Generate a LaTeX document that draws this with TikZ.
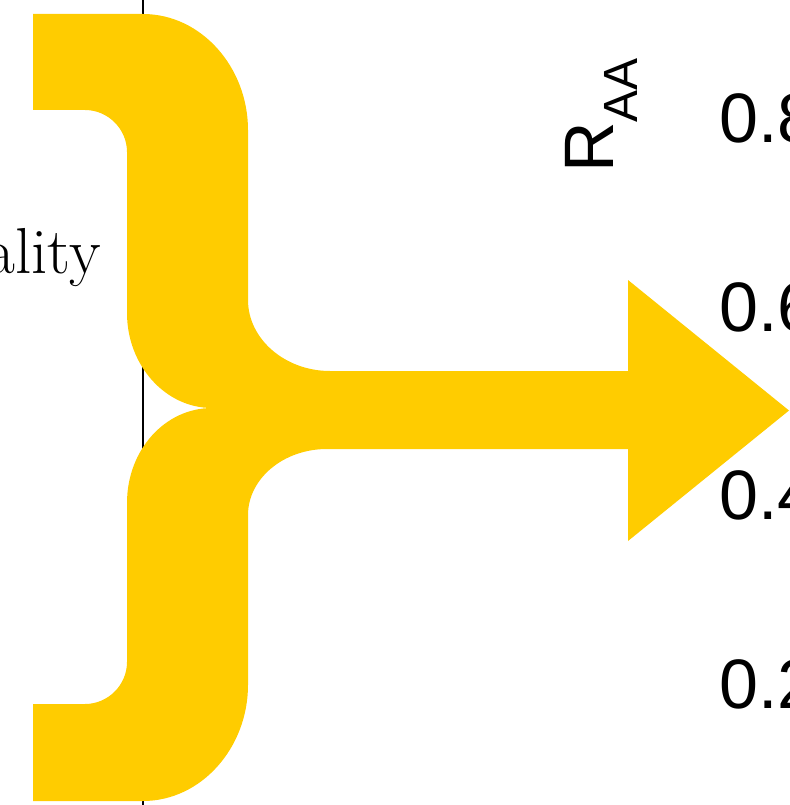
\documentclass[tikz,border=0pt]{standalone}
\usepackage{fontspec}
\newfontfamily\arialfont{Liberation Sans}
\definecolor{braceyellow}{HTML}{FFCC00}
\begin{document}
\begin{tikzpicture}[x=1pt,y=-1pt,
  axisline/.style={line width=1.5pt,black},
  bracefill/.style={fill=braceyellow,draw=none},
  ticklabel/.style={anchor=west,inner sep=0pt,font=\arialfont\fontsize{70}{70}\selectfont},
  axislabel/.style={inner sep=0pt,font=\arialfont\fontsize{70}{70}\selectfont},
  sidelabel/.style={anchor=base east,inner sep=0pt,font=\fontsize{65}{65}\selectfont}]
\useasboundingbox (0,0) rectangle (789,805);
\draw[axisline] (143,0) -- (143,805);
\fill[bracefill]
  (33,14) -- (143,14)
  .. controls (201,14) and (248,67) .. (248,130)
  -- (248,300)
  .. controls (248,339) and (285,371) .. (330,371)
  -- (628,371) -- (628,280) -- (789,410.5) -- (628,541) -- (628,449) -- (327,449)
  .. controls (283,449) and (248,479) .. (248,515)
  -- (248,685)
  .. controls (248,748) and (201,801) .. (143,801)
  -- (33,801) -- (33,704) -- (85,704)
  .. controls (108,704) and (127,685) .. (127,662)
  -- (127,503)
  .. controls (127,450) and (165,408) .. (212,408)
  .. controls (165,408) and (127,365) .. (127,313)
  -- (127,152)
  .. controls (127,129) and (108,110) .. (85,110)
  -- (33,110) -- cycle;
\node[sidelabel] (side) at (101,273) {ality};
\node[axislabel,rotate=90,anchor=base west] (raa) at (613,173) {R\raisebox{-24pt}{\fontsize{48}{48}\selectfont AA}};
\node[ticklabel] (t8) at (719,118) {0.8};
\node[ticklabel] (t6) at (719,307) {0.6};
\node[ticklabel] (t4) at (719,495) {0.4};
\node[ticklabel] (t2) at (719,684) {0.2};
\end{tikzpicture}
\end{document}
